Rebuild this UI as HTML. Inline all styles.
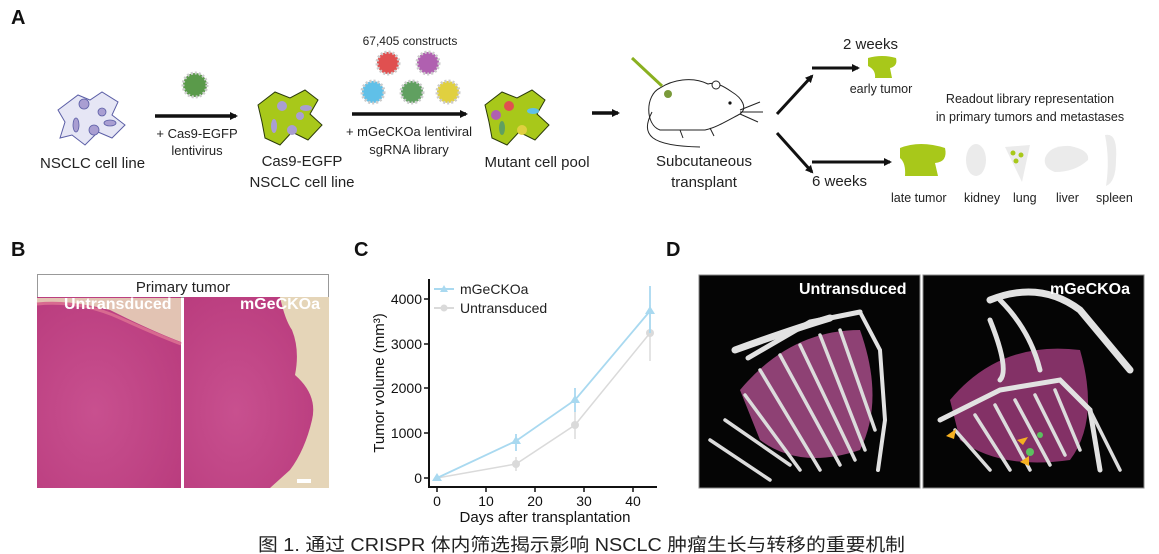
<!DOCTYPE html>
<html><head><meta charset="utf-8"><style>
html,body{margin:0;padding:0;background:#fff;}
svg{display:block;font-family:"Liberation Sans",Arial,sans-serif;}
</style></head><body>
<svg width="1159" height="554" viewBox="0 0 1159 554" xmlns="http://www.w3.org/2000/svg">
<defs>
<marker id="ah" markerWidth="8" markerHeight="8" refX="6" refY="4" orient="auto" markerUnits="userSpaceOnUse"><path d="M0,0 L8,4 L0,8 Z" fill="#111"/></marker>
<radialGradient id="he" cx="40%" cy="60%" r="80%"><stop offset="0" stop-color="#c8508f"/><stop offset="1" stop-color="#b83a7c"/></radialGradient>
</defs>
<rect width="1159" height="554" fill="#fff"/>
<g font-weight="bold" font-size="20" fill="#111">
<text x="11" y="24">A</text><text x="11" y="256">B</text><text x="354" y="256">C</text><text x="666" y="256">D</text>
</g>
<!-- Panel A -->
<g font-size="15" fill="#222">
<path d="M58,110 L78,95 L90,100 L102,92 L118,102 L112,115 L125,125 L112,138 L98,132 L85,145 L72,135 L60,138 L65,122 Z" stroke="#5b5ea6" stroke-width="1" fill="#e6e6f5"/>
<g fill="#a99ed2" stroke="#5b5ea6" stroke-width="0.8"><circle cx="84" cy="104" r="5"/><circle cx="102" cy="112" r="4"/><ellipse cx="76" cy="125" rx="3" ry="7"/><circle cx="94" cy="130" r="5"/><ellipse cx="110" cy="123" rx="6" ry="3"/></g>
<text x="40" y="168">NSCLC cell line</text>
<line x1="155" y1="116" x2="236" y2="116" stroke="#111" stroke-width="3.5" marker-end="url(#ah)"/>
<circle cx="195" cy="85" r="12" fill="#5a9a4a" stroke="#ccc" stroke-dasharray="2,2" stroke-width="3"/>
<text x="197" y="138" font-size="13" text-anchor="middle">+ Cas9-EGFP</text>
<text x="197" y="155" font-size="13" text-anchor="middle">lentivirus</text>
<path d="M258,105 L275,92 L290,98 L305,90 L318,100 L310,114 L322,125 L308,140 L292,132 L280,145 L265,138 L262,122 Z" fill="#a8c81a" stroke="#2a3a0a" stroke-width="1"/>
<g fill="#a99ed2"><circle cx="282" cy="106" r="5"/><circle cx="300" cy="116" r="4"/><ellipse cx="274" cy="126" rx="3" ry="7"/><circle cx="292" cy="130" r="5"/><ellipse cx="306" cy="108" rx="6" ry="3"/></g>
<text x="302" y="166" text-anchor="middle">Cas9-EGFP</text>
<text x="302" y="187" text-anchor="middle">NSCLC cell line</text>
<text x="410" y="45" font-size="12" text-anchor="middle">67,405 constructs</text>
<g stroke="#ccc" stroke-width="3" stroke-dasharray="2,2">
<circle cx="388" cy="63" r="11" fill="#e05050"/><circle cx="428" cy="63" r="11" fill="#b060b0"/>
<circle cx="373" cy="92" r="11" fill="#60c0e8"/><circle cx="412" cy="92" r="11" fill="#60a060"/><circle cx="448" cy="92" r="11" fill="#e0d040"/>
</g>
<line x1="352" y1="114" x2="466" y2="114" stroke="#111" stroke-width="3.5" marker-end="url(#ah)"/>
<text x="409" y="136" font-size="13" text-anchor="middle">+ mGeCKOa lentiviral</text>
<text x="409" y="154" font-size="13" text-anchor="middle">sgRNA library</text>
<path d="M485,105 L502,92 L517,98 L532,90 L545,100 L537,114 L549,125 L535,140 L519,132 L507,145 L492,138 L489,122 Z" fill="#a8c81a" stroke="#2a3a0a" stroke-width="1"/>
<g><circle cx="509" cy="106" r="5" fill="#e05050"/><ellipse cx="533" cy="111" rx="6" ry="3" fill="#60c0e8"/><circle cx="496" cy="115" r="5" fill="#b060b0"/><ellipse cx="502" cy="128" rx="3" ry="7" fill="#60a060"/><circle cx="522" cy="130" r="5" fill="#e0d040"/></g>
<text x="537" y="167" text-anchor="middle">Mutant cell pool</text>
<line x1="592" y1="113" x2="618" y2="113" stroke="#111" stroke-width="3.5" marker-end="url(#ah)"/>
<!-- mouse -->
<g fill="none" stroke="#222" stroke-width="1">
<path d="M660,88 C645,95 645,125 660,130 L705,130 C715,128 725,122 740,114 C748,108 742,98 732,92 C722,85 715,82 708,84 C692,76 672,80 660,88 Z" fill="#fff"/>
<path d="M652,112 C640,135 650,146 700,147"/>
<circle cx="716" cy="85" r="4" fill="#fff"/>
<path d="M740,110 L760,102 M740,112 L763,112 M740,114 L758,122"/>
<path d="M680,130 L683,138 M710,128 L714,136"/>
</g>
<circle cx="730" cy="103" r="1.6" fill="#111"/>
<circle cx="668" cy="94" r="4" fill="#7a9a3a"/>
<line x1="632" y1="58" x2="662" y2="86" stroke="#8ab020" stroke-width="3"/>
<text x="704" y="166" text-anchor="middle">Subcutaneous</text>
<text x="704" y="187" text-anchor="middle">transplant</text>
<line x1="777" y1="114" x2="812" y2="76" stroke="#111" stroke-width="3" marker-end="url(#ah)"/>
<line x1="777" y1="133" x2="812" y2="172" stroke="#111" stroke-width="3" marker-end="url(#ah)"/>
<text x="843" y="49">2 weeks</text>
<text x="812" y="186">6 weeks</text>
<line x1="812" y1="68" x2="858" y2="68" stroke="#111" stroke-width="3" marker-end="url(#ah)"/>
<path d="M868,58 Q882,54 896,58 Q898,66 890,68 L892,78 L875,78 Q876,70 868,66 Z" fill="#a8c81a"/>
<text x="881" y="93" font-size="12.5" text-anchor="middle">early tumor</text>
<text x="1030" y="103" font-size="12.5" text-anchor="middle">Readout library representation</text>
<text x="1030" y="121" font-size="12.5" text-anchor="middle">in primary tumors and metastases</text>
<line x1="812" y1="162" x2="890" y2="162" stroke="#111" stroke-width="3" marker-end="url(#ah)"/>
<path d="M900,148 Q920,140 945,148 Q948,162 935,163 L938,176 L905,176 Q906,163 900,158 Z" fill="#a8c81a"/>
<ellipse cx="976" cy="160" rx="10" ry="16" fill="#ebebeb"/>
<path d="M1005,147 L1030,145 L1022,182 Z" fill="#ebebeb"/>
<circle cx="1013" cy="153" r="2.5" fill="#a8c81a"/><circle cx="1021" cy="155" r="2.5" fill="#a8c81a"/><circle cx="1016" cy="161" r="2.5" fill="#a8c81a"/>
<path d="M1045,158 Q1050,145 1070,146 Q1090,150 1088,160 Q1075,172 1055,172 Q1043,168 1045,158 Z" fill="#ebebeb"/>
<path d="M1105,135 Q1118,132 1116,160 Q1116,182 1106,186 Q1110,160 1105,135 Z" fill="#ebebeb"/>
<g font-size="12.5"><text x="891" y="202">late tumor</text><text x="964" y="202">kidney</text><text x="1013" y="202">lung</text><text x="1056" y="202">liver</text><text x="1096" y="202">spleen</text></g>
</g>
<!-- Panel B -->
<rect x="37.5" y="274.5" width="291" height="23" fill="#fff" stroke="#999"/>
<text x="183" y="292" font-size="15" text-anchor="middle" fill="#222">Primary tumor</text>
<rect x="37" y="297" width="144" height="191" fill="url(#he)"/>
<path d="M37,298 L181,298 L181,342 Q150,330 110,310 Q70,300 37,303 Z" fill="#e2c3b3"/>
<path d="M37,304 Q80,300 120,318 Q155,334 181,344" stroke="#d86a90" stroke-width="3" fill="none"/>
<rect x="184" y="297" width="145" height="191" fill="#e5d5b8"/>
<path d="M184,297 L280,297 Q285,320 292,330 Q300,350 295,375 Q318,395 312,420 Q305,450 290,470 L270,488 L184,488 Z" fill="url(#he)"/>
<rect x="297" y="479" width="14" height="4" fill="#fff"/>
<g font-weight="bold" font-size="16" fill="#fff"><text x="64" y="309">Untransduced</text><text x="240" y="309">mGeCKOa</text></g>
<!-- Panel C -->
<g fill="#111" font-size="15">
<line x1="429" y1="279" x2="429" y2="487" stroke="#111" stroke-width="2"/>
<line x1="428" y1="487" x2="657" y2="487" stroke="#111" stroke-width="2"/>
<g stroke="#111" stroke-width="1.5">
<line x1="424" y1="478" x2="429" y2="478"/><line x1="424" y1="433" x2="429" y2="433"/><line x1="424" y1="388" x2="429" y2="388"/><line x1="424" y1="344" x2="429" y2="344"/><line x1="424" y1="299" x2="429" y2="299"/>
<line x1="437" y1="487" x2="437" y2="492"/><line x1="486" y1="487" x2="486" y2="492"/><line x1="535" y1="487" x2="535" y2="492"/><line x1="584" y1="487" x2="584" y2="492"/><line x1="633" y1="487" x2="633" y2="492"/>
</g>
<g text-anchor="end" font-size="14"><text x="422" y="483">0</text><text x="422" y="438">1000</text><text x="422" y="393">2000</text><text x="422" y="349">3000</text><text x="422" y="304">4000</text></g>
<g text-anchor="middle" font-size="14"><text x="437" y="506">0</text><text x="486" y="506">10</text><text x="535" y="506">20</text><text x="584" y="506">30</text><text x="633" y="506">40</text></g>
<text x="545" y="522" text-anchor="middle">Days after transplantation</text>
<text transform="translate(384,383) rotate(-90)" text-anchor="middle">Tumor volume (mm³)</text>
</g>
<g stroke="#dadada" stroke-width="1.5" fill="none">
<polyline points="437,478 516,464 575,425 650,333"/>
<line x1="516" y1="457" x2="516" y2="471"/><line x1="575" y1="412" x2="575" y2="439"/><line x1="650" y1="305" x2="650" y2="361"/>
</g>
<g fill="#dadada"><circle cx="516" cy="464" r="4"/><circle cx="575" cy="425" r="4"/><circle cx="650" cy="333" r="4"/></g>
<g stroke="#a9d9f0" stroke-width="1.8" fill="none">
<polyline points="437,478 516,441 575,400 650,311"/>
<line x1="516" y1="434" x2="516" y2="451"/><line x1="575" y1="388" x2="575" y2="412"/><line x1="650" y1="286" x2="650" y2="333"/>
</g>
<g fill="#a9d9f0"><path d="M437,473 l5,8 h-10z"/><path d="M516,436 l5,8 h-10z"/><path d="M575,395 l5,8 h-10z"/><path d="M650,306 l5,8 h-10z"/></g>
<line x1="434" y1="289" x2="454" y2="289" stroke="#a9d9f0" stroke-width="2"/><path d="M444,285 l4,7 h-8z" fill="#a9d9f0"/>
<line x1="434" y1="308" x2="454" y2="308" stroke="#dadada" stroke-width="2"/><circle cx="444" cy="308" r="3.5" fill="#dadada"/>
<text x="460" y="294" font-size="14" fill="#222">mGeCKOa</text>
<text x="460" y="313" font-size="14" fill="#222">Untransduced</text>
<!-- Panel D -->
<rect x="699" y="275" width="221" height="213" fill="#050505" stroke="#888"/>
<rect x="923" y="275" width="221" height="213" fill="#050505" stroke="#888"/>
<path d="M740,390 Q790,330 860,330 Q885,400 860,450 Q800,470 760,440 Z" fill="#b05090" opacity="0.8"/>
<g stroke="#e2e2e2" stroke-width="5" fill="none" stroke-linecap="round">
<path d="M748,358 L810,322 L860,312"/>
<path d="M860,312 L880,350 L885,420 L878,470" stroke-width="4"/>
<path d="M735,350 Q790,330 830,318" stroke-width="7"/>
</g>
<g stroke="#dcdcdc" stroke-width="3.5" fill="none" stroke-linecap="round">
<path d="M725,420 L790,465"/><path d="M745,395 L800,470"/><path d="M760,370 L820,470"/><path d="M780,355 L840,465"/><path d="M800,345 L855,460"/><path d="M820,335 L865,450"/><path d="M840,330 L875,430"/><path d="M710,440 L770,480"/>
</g>
<path d="M950,400 Q1000,340 1080,350 Q1100,420 1070,460 Q1000,470 960,440 Z" fill="#9a3a78" opacity="0.85"/>
<g stroke="#e2e2e2" stroke-width="5" fill="none" stroke-linecap="round">
<path d="M990,300 Q1040,280 1080,310 L1130,370" stroke-width="7"/><path d="M990,320 Q1010,370 1000,380"/>
<path d="M940,420 L1000,390 L1060,380 L1090,410 L1100,470"/>
<path d="M1000,300 Q1030,330 1040,370"/>
</g>
<g stroke="#dcdcdc" stroke-width="3.5" fill="none" stroke-linecap="round">
<path d="M955,430 L990,470"/><path d="M975,415 L1010,470"/><path d="M995,405 L1030,470"/><path d="M1015,400 L1050,465"/><path d="M1035,395 L1065,455"/><path d="M1055,390 L1080,450"/><path d="M1090,410 L1120,470"/>
</g>
<g fill="#f5b020"><path d="M946,436 l10,-7 l-2,10z"/><path d="M1017,440 l11,-3 l-5,8z"/><path d="M1020,462 l9,-6 l0,10z"/></g>
<g fill="#5cc060"><circle cx="1030" cy="452" r="4"/><circle cx="1040" cy="435" r="3"/></g>
<g font-weight="bold" font-size="16" fill="#fff"><text x="799" y="294">Untransduced</text><text x="1050" y="294">mGeCKOa</text></g>
<text x="258" y="551" font-size="18" fill="#222" textLength="647" lengthAdjust="spacingAndGlyphs" font-family="'Liberation Sans','Noto Sans CJK SC',sans-serif">图 1. 通过 CRISPR 体内筛选揭示影响 NSCLC 肿瘤生长与转移的重要机制</text>
</svg>
</body></html>
